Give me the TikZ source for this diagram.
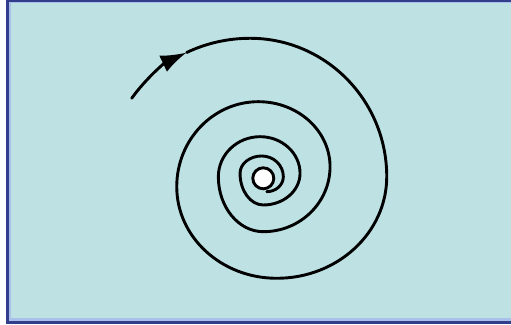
\documentclass[tikz,border=0pt]{standalone}
\usetikzlibrary{arrows.meta}
\definecolor{bgcyan}{RGB}{190,226,228}
\definecolor{framedark}{RGB}{50,62,140}
\definecolor{framelight}{RGB}{168,192,234}
\begin{document}
\begin{tikzpicture}[x=1pt,y=1pt,
  spiral/.style={line width=2.9pt,black,line cap=round,line join=round}]
\useasboundingbox (0,0) rectangle (511,324);
\fill[white] (0,0) rectangle (511,324);
\fill[framedark] (6,0) rectangle (520,324);
\fill[framelight] (9,3) rectangle (520,322);
\fill[bgcyan] (11,5.7) rectangle (520,321);
\coordinate (start) at (131.7,225.7);
\draw[spiral,-{Latex[length=26pt,width=18pt]}] (start)
  arc[start angle=145.5,end angle=116.2,x radius=143.6pt,y radius=138.4pt] coordinate (tip);
\draw[spiral] (tip)
  arc[start angle=116.2,end angle=90,x radius=143.6pt,y radius=138.4pt]
  arc[start angle=90,end angle=0,x radius=136.7pt,y radius=138.4pt]
  arc[start angle=0,end angle=-90,x radius=110pt,y radius=101.6pt]
  arc[start angle=-90,end angle=-180,x radius=100pt,y radius=91.6pt]
  arc[start angle=180,end angle=90,x radius=81.6pt,y radius=85pt]
  arc[start angle=90,end angle=0,x radius=71.7pt,y radius=65pt]
  arc[start angle=0,end angle=-90,x radius=66.7pt,y radius=65pt]
  arc[start angle=-90,end angle=-180,x radius=45pt,y radius=55pt]
  arc[start angle=180,end angle=90,x radius=41.7pt,y radius=40pt]
  arc[start angle=90,end angle=0,x radius=40pt,y radius=36.6pt]
  arc[start angle=0,end angle=-90,x radius=36.7pt,y radius=31.7pt]
  arc[start angle=-90,end angle=-180,x radius=23.3pt,y radius=31.7pt]
  arc[start angle=180,end angle=90,x radius=21.7pt,y radius=17.3pt]
  arc[start angle=90,end angle=0,x radius=21.6pt,y radius=20.7pt]
  arc[start angle=0,end angle=-90,x radius=16.6pt,y radius=15pt];
\node[circle,draw=black,line width=2.9pt,fill=white,minimum size=21pt,inner sep=0pt] (hole) at (263.3,145.7) {};
\end{tikzpicture}
\end{document}
